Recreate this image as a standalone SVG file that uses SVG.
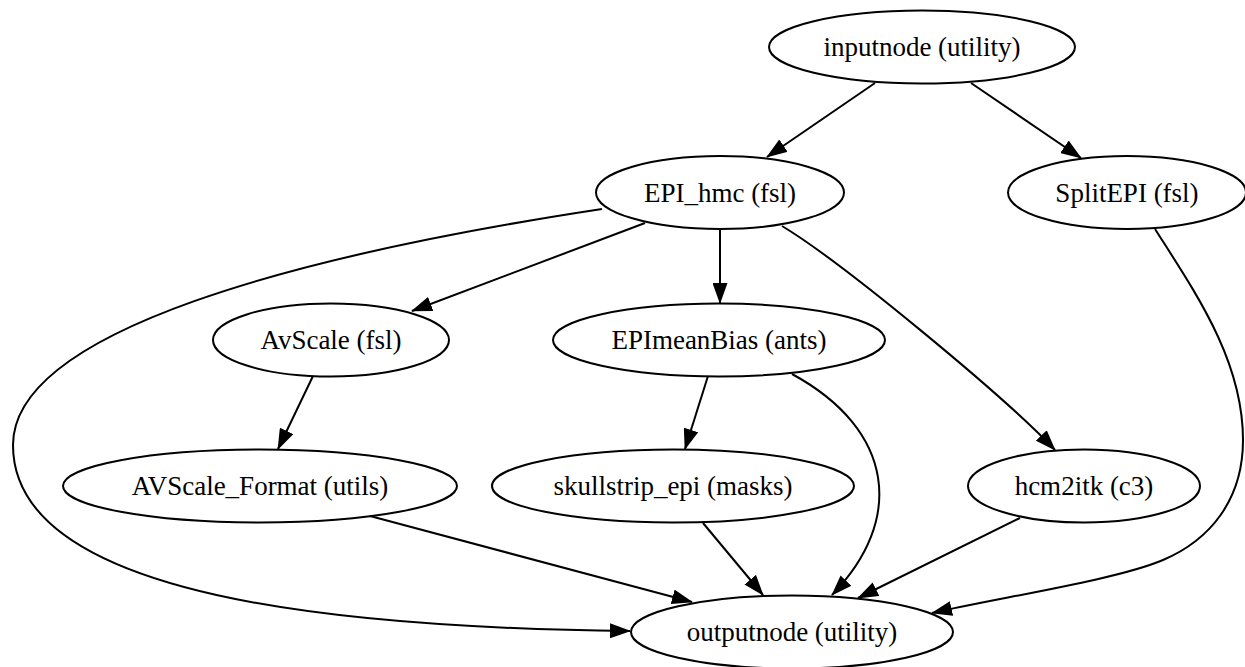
<svg xmlns="http://www.w3.org/2000/svg" width="1245" height="667" viewBox="0 0 1245 667">
<style>
.node ellipse{fill:none;stroke:#000;stroke-width:2}
.node text{font-size:27px;text-anchor:middle;fill:#000}
.edge{fill:none;stroke:#000;stroke-width:2;marker-end:url(#arr)}
</style>
<defs>
<marker id="arr" viewBox="0 0 21 15" refX="20" refY="7.5" markerWidth="21" markerHeight="15" markerUnits="userSpaceOnUse" orient="auto">
<path d="M0,0 L21,7.5 L0,15 z" fill="#000"/>
</marker>
</defs>
<rect width="1245" height="667" fill="#fff"/>
<g id="edges">
<path class="edge" d="M875,83 L767,157"/>
<path class="edge" d="M971,83 L1081,158"/>
<path class="edge" d="M645,223 L412,311"/>
<path class="edge" d="M720,229 L720,303"/>
<path class="edge" d="M782,226 C842,262 1005,397 1055,450"/>
<path class="edge" d="M602,209 C300,255 13,330 13,445 C13,600 350,628 630,631"/>
<path class="edge" d="M313,376 L278,449"/>
<path class="edge" d="M370,516 L692,602"/>
<path class="edge" d="M708,376 L685,449"/>
<path class="edge" d="M792,374 C895,430 905,520 832,595"/>
<path class="edge" d="M703,523 L763,595"/>
<path class="edge" d="M1020,518 L858,598"/>
<path class="edge" d="M1155,229 C1195,292 1243,360 1243,440 C1243,500 1210,540 1163,560 C1116,580 1002,597 932,613"/>
</g>
<g font-family="'Liberation Serif', 'DejaVu Serif', serif">
<g id="inputnode" class="node"><ellipse cx="922" cy="47" rx="153" ry="36.5"/><text x="922" y="56">inputnode (utility)</text></g>
<g id="EPI_hmc" class="node"><ellipse cx="720" cy="192.5" rx="124" ry="36.5"/><text x="720" y="202">EPI_hmc (fsl)</text></g>
<g id="SplitEPI" class="node"><ellipse cx="1127" cy="192.5" rx="119" ry="36.5"/><text x="1127" y="202">SplitEPI (fsl)</text></g>
<g id="AvScale" class="node"><ellipse cx="331" cy="340" rx="118" ry="36.5"/><text x="331" y="349">AvScale (fsl)</text></g>
<g id="EPImeanBias" class="node"><ellipse cx="719" cy="340" rx="166" ry="36.5"/><text x="719" y="349">EPImeanBias (ants)</text></g>
<g id="AVScale_Format" class="node"><ellipse cx="260" cy="486" rx="197" ry="36.5"/><text x="260" y="495">AVScale_Format (utils)</text></g>
<g id="skullstrip_epi" class="node"><ellipse cx="673" cy="486" rx="181" ry="36.5"/><text x="673" y="495">skullstrip_epi (masks)</text></g>
<g id="hcm2itk" class="node"><ellipse cx="1084" cy="486" rx="116" ry="36.5"/><text x="1084" y="495">hcm2itk (c3)</text></g>
<g id="outputnode" class="node"><ellipse cx="792" cy="632" rx="161" ry="36.5"/><text x="792" y="641">outputnode (utility)</text></g>
</g>
</svg>
